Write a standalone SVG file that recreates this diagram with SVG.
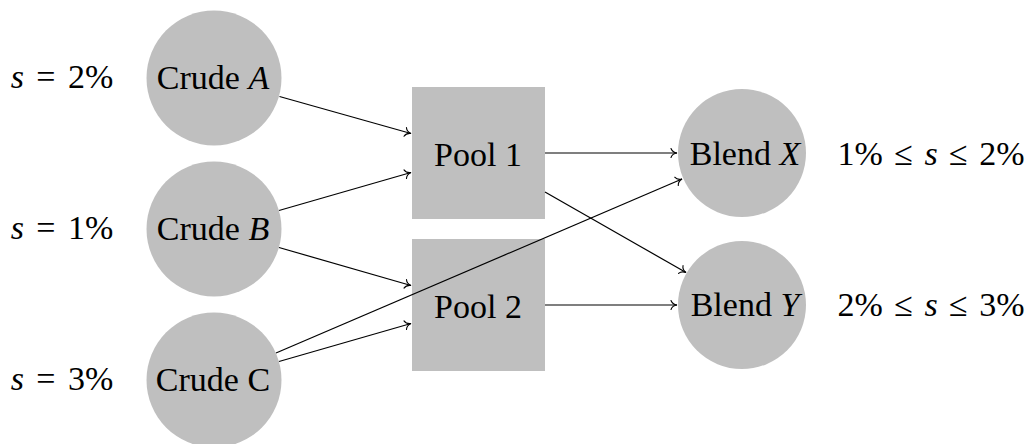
<svg xmlns="http://www.w3.org/2000/svg" width="1030" height="444" viewBox="0 0 1030 444">
  <style>
    .node { fill: #bfbfbf; stroke: none; }
    .lbl { font-family: "Liberation Serif", "DejaVu Serif", serif; font-size: 34px; fill: #000; text-anchor: middle; }
    .it { font-style: italic; }
    .edge { stroke: #000; stroke-width: 1.2; fill: none; marker-end: url(#tip); }
  </style>
  <defs>
    <marker id="tip" markerUnits="userSpaceOnUse" markerWidth="12" markerHeight="12" viewBox="-8 -6 10 12" refX="0" refY="0" orient="auto">
      <path d="M -6 -4.5 C -5 -1.6 -2 -0.3 0 0 C -2 0.3 -5 1.6 -6 4.5" fill="none" stroke="#000" stroke-width="1.1" stroke-linecap="round"/>
    </marker>
  </defs>

  <rect width="1030" height="444" fill="#fff"/>

  <!-- sulfur content of the crudes -->
  <g id="sulfur-labels">
    <text class="lbl" x="62" y="88"><tspan class="it">s</tspan><tspan dx="4"> = </tspan><tspan dx="4">2%</tspan></text>
    <text class="lbl" x="62" y="239"><tspan class="it">s</tspan><tspan dx="4"> = </tspan><tspan dx="4">1%</tspan></text>
    <text class="lbl" x="62" y="390"><tspan class="it">s</tspan><tspan dx="4"> = </tspan><tspan dx="4">3%</tspan></text>
  </g>

  <g id="crudeA">
    <circle class="node" cx="214" cy="78" r="67.5"/>
    <text class="lbl" x="213" y="89">Crude <tspan class="it">A</tspan></text>
  </g>
  <g id="crudeB">
    <circle class="node" cx="214" cy="229" r="67.5"/>
    <text class="lbl" x="213" y="240">Crude <tspan class="it">B</tspan></text>
  </g>
  <g id="crudeC">
    <circle class="node" cx="214" cy="380" r="67.5"/>
    <text class="lbl" x="213" y="391">Crude C</text>
  </g>

  <g id="pool1">
    <rect class="node" x="412" y="87" width="133" height="132"/>
    <text class="lbl" x="478" y="166">Pool 1</text>
  </g>
  <g id="pool2">
    <rect class="node" x="412" y="239" width="133" height="132"/>
    <text class="lbl" x="478" y="318">Pool 2</text>
  </g>

  <g id="blendX">
    <circle class="node" cx="742" cy="153" r="64"/>
    <text class="lbl" x="745" y="165">Blend <tspan class="it">X</tspan></text>
  </g>
  <g id="blendY">
    <circle class="node" cx="742" cy="305" r="64"/>
    <text class="lbl" x="745" y="316">Blend <tspan class="it">Y</tspan></text>
  </g>

  <!-- sulfur limits of the blends -->
  <g id="limit-labels">
    <text class="lbl" x="931" y="165">1%<tspan dx="3"> ≤ </tspan><tspan class="it" dx="3">s</tspan><tspan dx="3"> ≤ </tspan><tspan dx="3">2%</tspan></text>
    <text class="lbl" x="931" y="316">2%<tspan dx="3"> ≤ </tspan><tspan class="it" dx="3">s</tspan><tspan dx="3"> ≤ </tspan><tspan dx="3">3%</tspan></text>
  </g>

  <g id="connectors">
    <line class="edge" x1="279.5" y1="96.5" x2="411" y2="133.5"/>
    <line class="edge" x1="279" y1="210.5" x2="411" y2="172.5"/>
    <line class="edge" x1="279" y1="247.5" x2="411" y2="285.5"/>
    <line class="edge" x1="279" y1="361.5" x2="411" y2="323.5"/>
    <line class="edge" x1="276" y1="353" x2="682" y2="179"/>
    <line class="edge" x1="545" y1="153" x2="677" y2="153"/>
    <line class="edge" x1="545" y1="192" x2="686" y2="272.5"/>
    <line class="edge" x1="545" y1="305" x2="677" y2="305"/>
  </g>
</svg>
